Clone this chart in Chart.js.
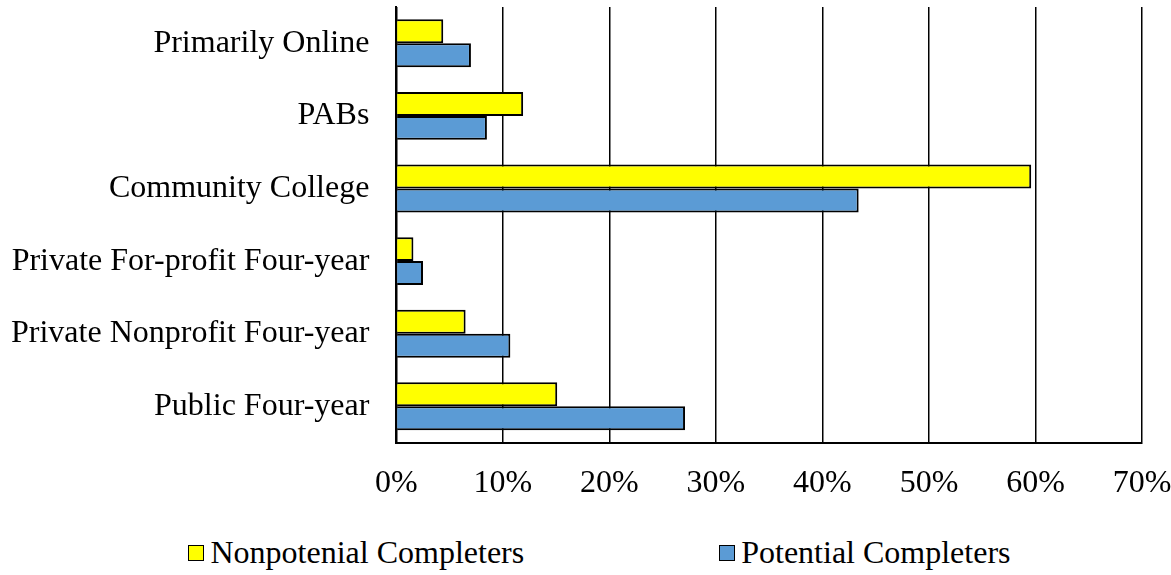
<!DOCTYPE html>
<html lang="en">
<head>
    <meta charset="UTF-8">
    <title>Completers by sector</title>
    <script src="https://cdn.jsdelivr.net/npm/chart.js"></script>
    <style>
        body { margin: 0; background: #fff; }
        .grafico { position: relative; width: 1171px; height: 525px; }
        .legenda {
            display: flex; justify-content: center; align-items: center;
            gap: 195px; padding-left: 28px; margin-top: 9px;
            font-family: 'Liberation Serif', 'Times New Roman', serif;
            font-size: 32px; color: #000;
        }
        .item { display: flex; align-items: center; }
        .caixa { box-sizing: border-box; width: 16px; height: 16px; border: 1.5px solid #000; margin-right: 6px; }
    </style>
</head>
<body>

    <div class="grafico">
        <canvas id="myChart"></canvas>
    </div>
    <div class="legenda" id="legenda"></div>

<script>
    // categories top to bottom
    const categorias = [
        "Primarily Online",
        "PABs",
        "Community College",
        "Private For-profit Four-year",
        "Private Nonprofit Four-year",
        "Public Four-year"
    ];

    const nomesSeries = ["Nonpotenial Completers", "Potential Completers"];
    const coresSeries = ["#FFFF00", "#5B9BD5"];

    // percent values
    const nonpotencial = [4.4, 11.9, 59.6, 1.6, 6.5, 15.1];
    const potencial = [7.0, 8.5, 43.4, 2.5, 10.7, 27.1];

    const ticksX = [0, 10, 20, 30, 40, 50, 60, 70];

    const fonte = { family: "'Liberation Serif', 'Times New Roman', serif", size: 32 };

    // scales ask for extra padding for their labels, we set it by hand in layout.padding
    function semPadding(scale) {
        scale.paddingLeft = 0;
        scale.paddingRight = 0;
        scale.paddingTop = 0;
        scale.paddingBottom = 0;
    }

    const data = {
        labels: categorias,
        datasets: [{
            label: nomesSeries[0],
            data: nonpotencial,
            backgroundColor: coresSeries[0],
            borderColor: '#000',
            borderWidth: 2
        }, {
            label: nomesSeries[1],
            data: potencial,
            backgroundColor: coresSeries[1],
            borderColor: '#000',
            borderWidth: 2
        }]
    };

    const config = {
        type: 'bar',
        data: data,
        options: {
            indexAxis: 'y',
            responsive: true,
            maintainAspectRatio: false,
            animation: false,
            layout: { padding: { top: 7, left: -16, right: 29, bottom: 0 } },
            datasets: {
                bar: { categoryPercentage: 0.66, barPercentage: 1 }
            },
            plugins: {
                legend: { display: false },
                tooltip: { enabled: false }
            },
            scales: {
                x: {
                    min: ticksX[0],
                    max: ticksX[ticksX.length - 1],
                    afterBuildTicks: function (scale) {
                        scale.ticks = ticksX.map(v => ({ value: v }));
                    },
                    afterFit: semPadding,
                    ticks: {
                        color: '#000',
                        font: fonte,
                        padding: 22,
                        maxRotation: 0,
                        callback: v => v + '%'
                    },
                    grid: { color: '#000', lineWidth: 1.5, drawTicks: false },
                    border: { display: true, color: '#000', width: 2 }
                },
                y: {
                    afterFit: semPadding,
                    ticks: { color: '#000', font: fonte, padding: 27 },
                    grid: { display: false, drawTicks: false },
                    border: { display: true, color: '#000', width: 2 }
                }
            }
        }
    };

    const myChart = new Chart(document.getElementById('myChart'), config);

    // legend in html
    const legenda = document.getElementById('legenda');
    nomesSeries.forEach((nome, i) => {
        const item = document.createElement('div');
        item.className = 'item';
        item.innerHTML = '<span class="caixa" style="background:' + coresSeries[i] + '"></span><span>' + nome + '</span>';
        legenda.appendChild(item);
    });
</script>
</body>
</html>
